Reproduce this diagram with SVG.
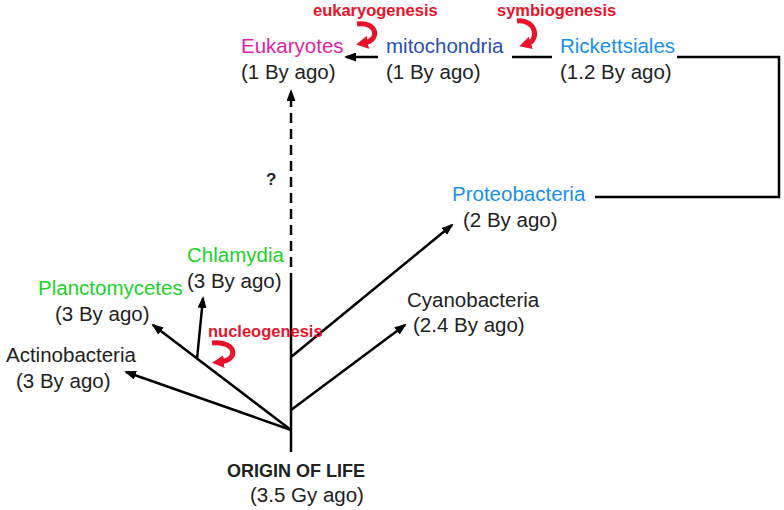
<svg xmlns="http://www.w3.org/2000/svg" width="784" height="510" viewBox="0 0 784 510">
<defs>
<style>
text{font-family:"Liberation Sans",Arial,Helvetica,sans-serif;font-size:20.5px;fill:#222}
.red{fill:#e8132b;font-weight:bold;font-size:16.5px}
.bold{font-weight:bold}
.line{stroke:#000;stroke-width:2.5;fill:none}
.curve{stroke:#e8132b;stroke-width:5;fill:none}
.euk{fill:#e21fa6}
.mito{fill:#2a4fb0}
.lblue{fill:#1a8ff0}
.green{fill:#22d02a}
</style>
<marker id="ah" markerUnits="userSpaceOnUse" markerWidth="12" markerHeight="9" refX="10" refY="4.5" orient="auto">
<path d="M0,0 L12,4.5 L0,9 z" fill="#000"/>
</marker>
<marker id="rh" markerUnits="userSpaceOnUse" markerWidth="12" markerHeight="13" refX="4" refY="6.5" orient="auto">
<path d="M0,0 L12,6.5 L0,13 z" fill="#e8132b"/>
</marker>
</defs>
<g id="connectors">
<path class="line" d="M291,283 L291,452"/>
<path class="line" d="M291,283 L291,91" stroke-dasharray="10,6" marker-end="url(#ah)"/>
<path class="line" d="M291,430 L126,372" marker-end="url(#ah)"/>
<path class="line" d="M291,430 L153,325" marker-end="url(#ah)"/>
<path class="line" d="M197,359 L203,298" marker-end="url(#ah)"/>
<path class="line" d="M291,410 L405,325" marker-end="url(#ah)"/>
<path class="line" d="M291,357 L452,225" marker-end="url(#ah)"/>
<path class="line" d="M378,57 L346,57" marker-end="url(#ah)"/>
<path class="line" d="M512,57 L552,57"/>
<path class="line" d="M677,57 L779,57 L779,197 L595,197"/>
<path class="curve" d="M357,24 C377,21 381,40 364,43" marker-end="url(#rh)"/>
<path class="curve" d="M517,21 C536,19 540,40 527,44" marker-end="url(#rh)"/>
<path class="curve" d="M212,343 C236,340 240,360 220,362" marker-end="url(#rh)"/>
</g>
<g id="eukaryotes"><text class="euk" x="241" y="53">Eukaryotes</text><text x="241" y="79">(1 By ago)</text></g>
<g id="mitochondria"><text class="mito" x="386" y="53">mitochondria</text><text x="386" y="79">(1 By ago)</text></g>
<g id="rickettsiales"><text class="lblue" x="560" y="53">Rickettsiales</text><text x="560" y="79">(1.2 By ago)</text></g>
<g id="proteobacteria"><text class="lblue" x="452" y="201">Proteobacteria</text><text x="463" y="227">(2 By ago)</text></g>
<g id="cyanobacteria"><text x="407" y="307">Cyanobacteria</text><text x="413" y="332">(2.4 By ago)</text></g>
<g id="chlamydia"><text class="green" x="187" y="262">Chlamydia</text><text x="187" y="288">(3 By ago)</text></g>
<g id="planctomycetes"><text class="green" x="38" y="295">Planctomycetes</text><text x="55" y="321">(3 By ago)</text></g>
<g id="actinobacteria"><text x="6" y="362">Actinobacteria</text><text x="16" y="388">(3 By ago)</text></g>
<g id="origin"><text class="bold" x="227" y="477" style="font-size:18px">ORIGIN OF LIFE</text><text x="250" y="502">(3.5 Gy ago)</text></g>
<g id="eukaryogenesis"><text class="red" x="313" y="16">eukaryogenesis</text></g>
<g id="symbiogenesis"><text class="red" x="497" y="16">symbiogenesis</text></g>
<g id="nucleogenesis"><text class="red" x="208" y="337">nucleogenesis</text></g>
<g id="question"><text class="bold" x="266" y="185" style="font-size:17px">?</text></g>
</svg>
